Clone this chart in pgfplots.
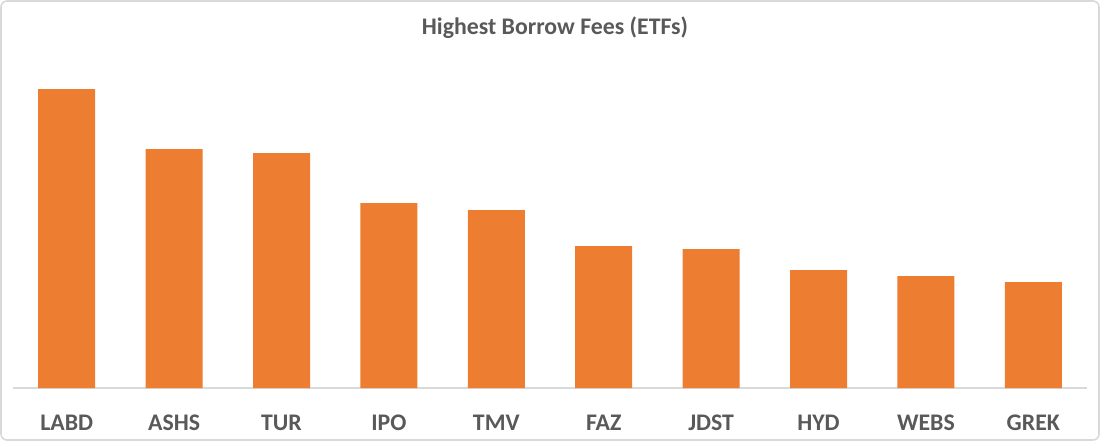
\documentclass[border=0pt]{standalone}
\usepackage{pgfplots}
\pgfplotsset{compat=1.18}
\usepackage{fontspec}
\setmainfont{Carlito}
\definecolor{barorange}{HTML}{ED7D31}
\definecolor{txtgray}{HTML}{595959}
\definecolor{linegray}{HTML}{D9D9D9}
\begin{document}
\begin{tikzpicture}
\path[use as bounding box] (0,0) rectangle (550pt,220.5pt);
\draw[linegray, line width=0.8pt, rounded corners=3pt] (0.5pt,0.5pt) rectangle (549.5pt,220pt);
\node[font=\fontsize{11.9}{14}\selectfont\bfseries, text=txtgray] at (277.5pt,206.5pt) {Highest Borrow Fees (ETFs)};
\begin{axis}[
  at={(6.5pt,26.5pt)}, anchor=south west,
  scale only axis, width=537pt, height=164pt,
  xmin=-0.5, xmax=9.5, ymin=0, ymax=328,
  axis x line=bottom, axis y line=none,
  axis line style={linegray, line width=0.6pt, -},
  xtick=data, xticklabels={LABD,ASHS,TUR,IPO,TMV,FAZ,JDST,HYD,WEBS,GREK},
  xtick style={draw=none},
  xticklabel style={font=\fontsize{11.9}{14}\selectfont\bfseries, text=txtgray, yshift=-5.5pt},
  ytick=\empty,
  ybar, bar width=28.5pt,
  clip=false,
]
\addplot[fill=barorange, draw=none] coordinates {
(0,299) (1,239) (2,235) (3,185) (4,178) (5,142) (6,139) (7,118) (8,112) (9,106)};
\end{axis}
\end{tikzpicture}
\end{document}
